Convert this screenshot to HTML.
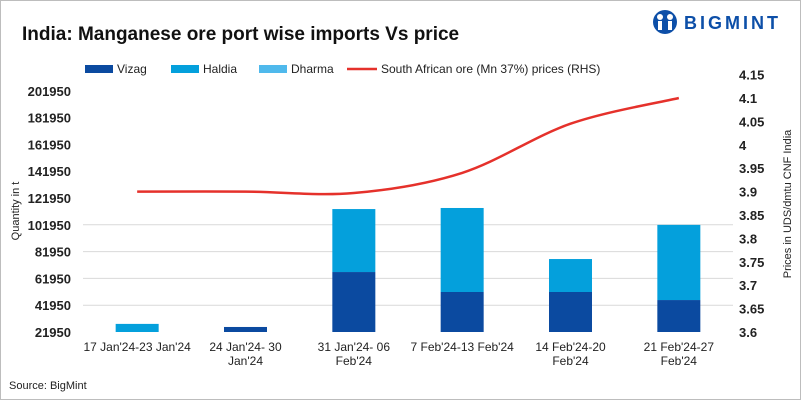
<!DOCTYPE html>
<html><head><meta charset="utf-8"><style>
body{margin:0;background:#fff;font-family:"Liberation Sans",sans-serif}
#wrap{position:relative;width:799px;height:398px;border:1px solid #bdbdbd;overflow:hidden}
</style></head><body>
<div id="wrap">
<svg id="chart" width="799" height="398" font-family="Liberation Sans, sans-serif">
<text x="21" y="39" font-size="19" font-weight="bold" fill="#111">India: Manganese ore port wise imports Vs price</text>
<g>
<circle cx="664" cy="21" r="12" fill="#0d4fa8"/>
<circle cx="659" cy="16" r="3" fill="#fff"/><circle cx="669" cy="16" r="3" fill="#fff"/>
<rect x="657" y="20" width="4" height="9" fill="#fff"/><rect x="667" y="20" width="4" height="9" fill="#fff"/>
<text x="683" y="28" font-size="18" font-weight="bold" fill="#0d4fa8" letter-spacing="3">BIGMINT</text>
</g>
<g id="legend" font-size="12" fill="#222">
<g><rect x="84" y="64" width="28" height="8" fill="#0b4aa0"/><text x="116" y="72">Vizag</text></g>
<g><rect x="170" y="64" width="28" height="8" fill="#04a0dc"/><text x="202" y="72">Haldia</text></g>
<g><rect x="258" y="64" width="28" height="8" fill="#4fb9ec"/><text x="290" y="72">Dharma</text></g>
<g><line x1="346" y1="68" x2="376" y2="68" stroke="#e5312b" stroke-width="2.5"/><text x="380" y="72">South African ore (Mn 37%) prices (RHS)</text></g>
</g>
<g id="grid"></g><g id="bars"></g><g id="axes"></g><g id="line"></g>
<text transform="translate(18,210) rotate(-90)" text-anchor="middle" font-size="11" fill="#222">Quantity in t</text>
<text transform="translate(790,203) rotate(-90)" text-anchor="middle" font-size="11" fill="#222">Prices in UDS/dmtu CNF India</text>
<text x="8" y="388" font-size="11" fill="#222">Source: BigMint</text>
</svg>
</div>
<script>
const categories=[["17 Jan'24-23 Jan'24"],["24 Jan'24- 30","Jan'24"],["31 Jan'24- 06","Feb'24"],["7 Feb'24-13 Feb'24"],["14 Feb'24-20","Feb'24"],["21 Feb'24-27","Feb'24"]];
const vizag=[0,25700,66700,51800,51800,45800];
const haldia=[28000,0,47000,62700,24600,56100];
const dharma=[0,0,0,0,0,0];
const prices=[3.90,3.90,3.897,3.94,4.045,4.10];
const leftTicks=[21950,41950,61950,81950,101950,121950,141950,161950,181950,201950];
const rightTicks=[3.6,3.65,3.7,3.75,3.8,3.85,3.9,3.95,4,4.05,4.1,4.15];
const NS="http://www.w3.org/2000/svg";
const y0=331,x0=82,x1=732,yMin=21950;
const yL=v=>y0-(Math.max(v,yMin)-yMin)/20000*26.8;
const yR=v=>y0-(v-3.6)/0.05*23.4;
const step=(x1-x0)/categories.length;
const xC=i=>x0+step*(i+0.5);
function mk(tag,at,parent){const e=document.createElementNS(NS,tag);for(const k in at)e.setAttribute(k,at[k]);document.getElementById(parent).appendChild(e);return e;}
leftTicks.forEach((t,i)=>{
  if(i>0&&i<5){const g=mk('line',{x1:x0,x2:x1,y1:yL(t),y2:yL(t),stroke:'#d9d9d9','stroke-width':1},'grid');
  
  }
  const tx=mk('text',{x:70,y:yL(t)+5,'text-anchor':'end','font-size':13,'font-weight':'bold',fill:'#222'},'axes');tx.textContent=t;
  
  
});
rightTicks.forEach(t=>{
  const tx=mk('text',{x:738,y:yR(t)+5,'font-size':13,'font-weight':'bold',fill:'#222'},'axes');tx.textContent=String(t);
  
  
});
const bw=43;
categories.forEach((c,i)=>{
  let base=0;
  [[vizag,'#0b4aa0','vizag'],[haldia,'#04a0dc','haldia'],[dharma,'#4fb9ec','dharma']].forEach(([arr,col,nm])=>{
    const v=arr[i];if(!v)return;
    const top=yL(base+v),bot=yL(base);
    base+=v;
    if(bot-top<=0)return;
    const r=mk('rect',{x:xC(i)-bw/2,y:top,width:bw,height:bot-top,fill:col},'bars');
    
    
  });
  c.forEach((ln,j)=>{
    const tx=mk('text',{x:xC(i),y:350+j*14,'text-anchor':'middle','font-size':12,fill:'#222'},'axes');tx.textContent=ln;
    
    
  });
});
const pts=prices.map((p,i)=>[xC(i),yR(p)]);
let d='M'+pts[0].join(',');
for(let i=0;i<pts.length-1;i++){
  const p0=pts[i-1]||pts[i],p1=pts[i],p2=pts[i+1],p3=pts[i+2]||p2;
  const c1=[p1[0]+(p2[0]-p0[0])/6,p1[1]+(p2[1]-p0[1])/6],c2=[p2[0]-(p3[0]-p1[0])/6,p2[1]-(p3[1]-p1[1])/6];
  d+=' C'+c1.join(',')+' '+c2.join(',')+' '+p2.join(',');
}
const pl=mk('path',{d:d,fill:'none',stroke:'#e5312b','stroke-width':2.5},'line');


</script>
</body></html>
